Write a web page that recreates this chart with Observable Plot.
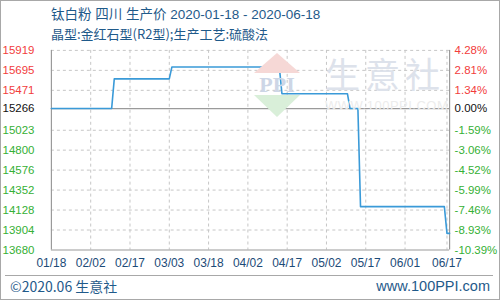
<!DOCTYPE html>
<html>
<head>
<meta charset="utf-8">
<script src="https://cdn.jsdelivr.net/npm/d3@7"></script>
<script src="https://cdn.jsdelivr.net/npm/@observablehq/plot@0.6"></script>
<style>
  html, body { margin: 0; padding: 0; background: #fff; }
  #card { position: relative; width: 498px; height: 298px; border: 1px solid #a8a8a8; overflow: hidden; background: #fff; }
  #chart { position: absolute; left: -1px; top: -1px; }
  .t { position: absolute; white-space: nowrap; line-height: 16px; font-family: "Noto Sans CJK SC", "Noto Sans", sans-serif; color: #1f5a8a; }
  .wm { position: absolute; white-space: nowrap; pointer-events: none; }
  #sep { position: absolute; left: 4px; top: 274px; width: 488px; height: 0; border-top: 1px solid #a8a8a8; }
</style>
</head>
<body>
<div id="card">
  <div id="chart"></div>
  <div class="wm" style="left:252px; top:50px; width:48px; height:68px;">
    <svg width="48" height="68">
      <polygon points="24,2 47,22 1,22" fill="#f6d8d6"/>
      <polygon points="1,44 47,44 24,66" fill="#d9efd9"/>
      <text x="24" y="41" text-anchor="middle" font-family="Liberation Serif, serif" font-weight="bold" font-size="22" fill="#cdd6e6">PPI</text>
    </svg>
  </div>
  <div class="wm" style="left:324px; top:54px; font-family:'Noto Sans CJK SC'; font-size:35px; line-height:36px; letter-spacing:5px; color:#dde2eb;">生意社</div>
  <div class="wm" style="left:324px; top:98px; font-family:'Liberation Sans', sans-serif; font-size:13px; line-height:14px; letter-spacing:0.5px; color:#ececec;">WWW.100PPI.COM</div>
  <div class="t" style="left:50px; top:6px; font-size:13.5px; font-family:'Liberation Sans', 'Noto Sans CJK SC', sans-serif;">钛白粉 四川 生产价 2020-01-18 - 2020-06-18</div>
  <div class="t" style="left:50px; top:25px; font-size:13px;">晶型:金红石型(R2型);生产工艺:硫酸法</div>
  <div id="sep"></div>
  <div class="t" style="left:9px; top:277px; font-size:14px;">©2020.06 生意社</div>
  <div class="t" style="right:9px; top:277px; font-size:14.5px; font-family:'Liberation Sans', sans-serif;">www.100PPI.com</div>
</div>
<script>
// Titanium dioxide (rutile, sulfate process) ex-works price, Sichuan
const dates = ["2020-01-18", "2020-02-10", "2020-02-11", "2020-03-03", "2020-03-04",
  "2020-04-14", "2020-04-15", "2020-05-10", "2020-05-11", "2020-05-14", "2020-05-15",
  "2020-06-16", "2020-06-17", "2020-06-18"];
const prices = [15266.67, 15266.67, 15600, 15600, 15733.33,
  15733.33, 15433.33, 15433.33, 15266.67, 15266.67, 14166.67,
  14166.67, 13866.67, 13866.67];

// Price axis rows (left) and their change against the starting price (right)
const priceTicks = [15919, 15695, 15471, 15266, 15023, 14800, 14576, 14352, 14128, 13904, 13680];
const changeLabels = ["4.28%", "2.81%", "1.34%", "0.00%", "-1.59%", "-3.06%", "-4.52%", "-5.99%", "-7.46%", "-8.93%", "-10.39%"];
const basePrice = 15266;

const dateTicks = ["2020-01-18", "2020-02-02", "2020-02-17", "2020-03-03", "2020-03-18",
  "2020-04-02", "2020-04-17", "2020-05-02", "2020-05-17", "2020-06-01", "2020-06-17"];

const parse = d3.utcParse("%Y-%m-%d");
const series = dates.map((d, i) => ({date: parse(d), price: prices[i]}));
const tickDates = dateTicks.map(parse);
const rows = priceTicks.map((v, i) => ({value: v, change: changeLabels[i]}));

const xDomain = [parse(dates[0]), parse(dates[dates.length - 1])];
const yDomain = [d3.min(priceTicks), d3.max(priceTicks)];

const rowColor = v => v > basePrice ? "#f23c3c" : v < basePrice ? "#35b035" : "#111";

const chart = Plot.plot({
  width: 500,
  height: 300,
  marginLeft: 51,
  marginRight: 50,
  marginTop: 50,
  marginBottom: 50,
  style: {background: "transparent", fontFamily: "Liberation Sans, Arial, sans-serif", fontSize: "11px"},
  x: {type: "utc", domain: xDomain, axis: null},
  y: {domain: yDomain, axis: null},
  marks: [
    // dashed grid
    Plot.ruleY(priceTicks.filter(v => v !== basePrice && v !== yDomain[0]), {stroke: "#c6c6c6", strokeDasharray: "3,3"}),
    Plot.ruleX(tickDates.slice(1), {stroke: "#c6c6c6", strokeDasharray: "3,3"}),
    // frame: left, right, bottom and the base-price line
    Plot.ruleX(xDomain, {stroke: "#9a9a9a", strokeWidth: 1.2}),
    Plot.ruleY([yDomain[0], basePrice], {stroke: "#9a9a9a", strokeWidth: 1.2}),
    // price line
    Plot.line(series, {x: "date", y: "price", stroke: "#3a9ad8", strokeWidth: 1.6}),
    // left price labels
    Plot.text(rows, {y: "value", text: d => String(d.value), frameAnchor: "left", dx: -17, textAnchor: "end",
      fill: d => rowColor(d.value), fontSize: 11.5}),
    // right change labels
    Plot.text(rows, {y: "value", text: "change", frameAnchor: "right", dx: 5, textAnchor: "start",
      fill: d => rowColor(d.value), fontSize: 11.5}),
    // date labels
    Plot.text(tickDates, {x: d => d, text: d3.utcFormat("%m/%d"), frameAnchor: "bottom", dy: 17,
      fill: "#1c4b78", fontSize: 12})
  ]
});
document.getElementById("chart").appendChild(chart);
</script>
</body>
</html>
